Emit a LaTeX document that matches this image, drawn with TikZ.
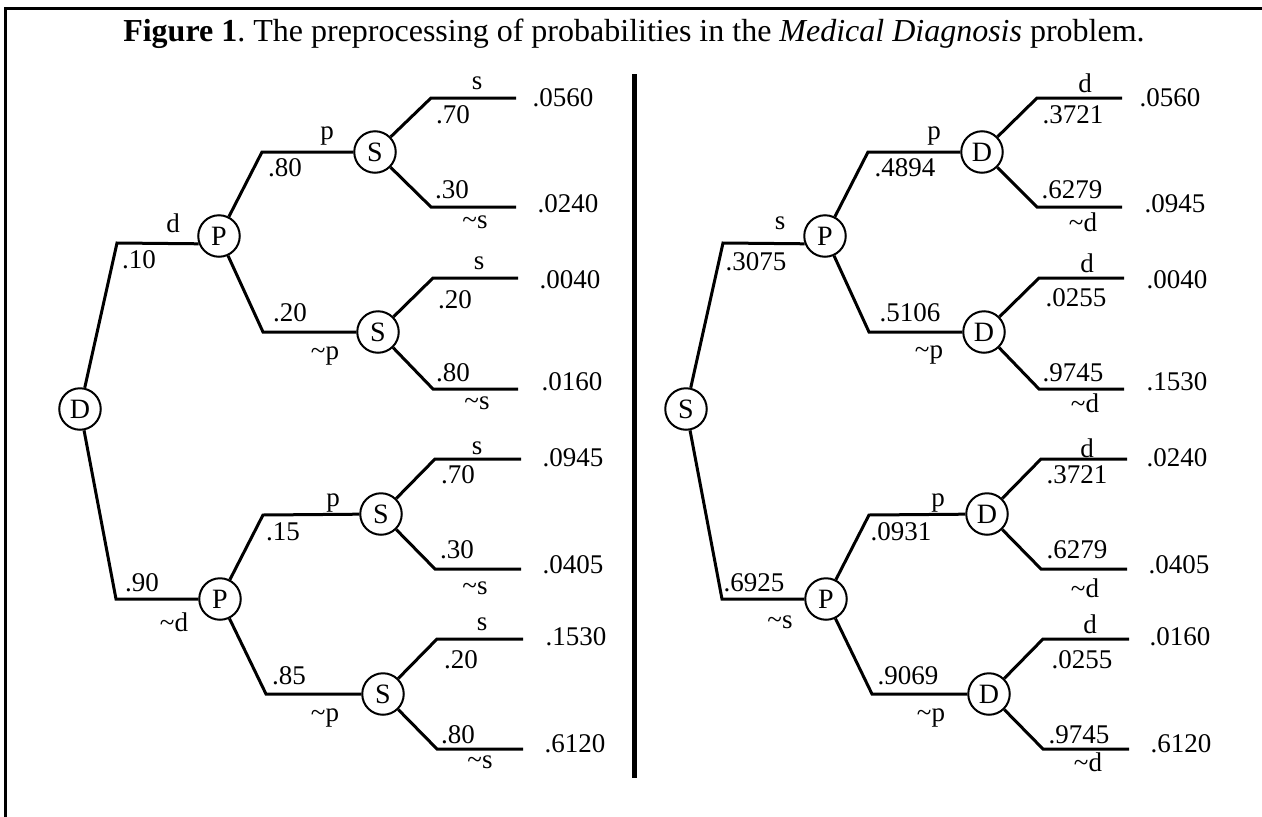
\documentclass[tikz,border=0pt]{standalone}
\usepackage{fontspec}
\setmainfont{Liberation Serif}
\frenchspacing
\begin{document}
\begin{tikzpicture}[x=1pt,y=-1pt,
  lab/.style={inner sep=0pt, font=\fontsize{27}{32}\selectfont},
  chance/.style={draw, circle, line width=2pt, minimum size=41.5pt, inner sep=0pt, font=\fontsize{28}{32}\selectfont},
  branch/.style={line width=3pt, line join=miter},
  frameline/.style={line width=3pt},
  divider/.style={line width=5pt}]
\useasboundingbox (0,0) rectangle (1262,817);
% frame and divider
\coordinate (frTR) at (1262,8);
\coordinate (frTL) at (5,8);
\coordinate (frBL) at (5,817);
\draw[frameline] (frTR) -- (frTL) -- (frBL);
\coordinate (dvT) at (634,74);
\coordinate (dvB) at (634,778);
\draw[divider] (dvT) -- (dvB);
% title
\node[anchor=base, inner sep=0pt, font=\fontsize{32}{38}\selectfont] (title) at (634,41.5)
  {\textbf{Figure 1}. The preprocessing of probabilities in the \textit{Medical Diagnosis} problem.};

% ================= LEFT TREE =================
\node[chance] (L0) at (80,409) {D};
\coordinate (Lc1) at (117,243);
\coordinate (Lc2) at (116,599);
\node[chance] (L1) at (219,236) {P};
\node[chance] (L2) at (220,599) {P};
\coordinate (Lc11) at (262,152);
\coordinate (Lc12) at (263,332);
\coordinate (Lc21) at (263,515);
\coordinate (Lc22) at (266,694);
\node[chance] (L11) at (375,152) {S};
\node[chance] (L12) at (378,332) {S};
\node[chance] (L21) at (381,514) {S};
\node[chance] (L22) at (383,694) {S};
\coordinate (La1) at (431,98);  \coordinate (Le1) at (516,98);
\coordinate (La2) at (431,207); \coordinate (Le2) at (516,207);
\coordinate (La3) at (433,278); \coordinate (Le3) at (518,278);
\coordinate (La4) at (433,389); \coordinate (Le4) at (518,389);
\coordinate (La5) at (435,459); \coordinate (Le5) at (521,459);
\coordinate (La6) at (435,569); \coordinate (Le6) at (521,569);
\coordinate (La7) at (437,639); \coordinate (Le7) at (523,639);
\coordinate (La8) at (437,749); \coordinate (Le8) at (523,749);

\draw[branch] (L0) -- (Lc1) -- (L1.201);
\draw[branch] (L0) -- (Lc2) -- (L2);
\draw[branch] (L1) -- (Lc11) -- (L11);
\draw[branch] (L1) -- (Lc12) -- (L12);
\draw[branch] (L2) -- (Lc21) -- (L21);
\draw[branch] (L2) -- (Lc22) -- (L22);
\draw[branch] (L11) -- (La1) -- (Le1);
\draw[branch] (L11) -- (La2) -- (Le2);
\draw[branch] (L12) -- (La3) -- (Le3);
\draw[branch] (L12) -- (La4) -- (Le4);
\draw[branch] (L21) -- (La5) -- (Le5);
\draw[branch] (L21) -- (La6) -- (Le6);
\draw[branch] (L22) -- (La7) -- (Le7);
\draw[branch] (L22) -- (La8) -- (Le8);

\node[lab] (Lt1) at (173,223) {d};
\node[lab] (Lt2) at (139,260) {.10};
\node[lab] (Lt3) at (142,583) {.90};
\node[lab] (Lt4) at (174,622) {\textasciitilde d};
\node[lab] (Lt5) at (327,136) {p};
\node[lab] (Lt6) at (285,168) {.80};
\node[lab] (Lt7) at (290,313) {.20};
\node[lab] (Lt8) at (325,356) {\textasciitilde p};
\node[lab] (Lt9) at (333,503) {p};
\node[lab] (Lt10) at (283,532) {.15};
\node[lab] (Lt11) at (289,676) {.85};
\node[lab] (Lt12) at (325,718) {\textasciitilde p};
% leaf labels
\node[lab] (Ls1) at (477,83) {s};
\node[lab] (Lq1) at (453,115) {.70};
\node[lab] (Lv1) at (563,98) {.0560};
\node[lab] (Lq2) at (452,190) {.30};
\node[lab] (Ls2) at (475,222) {\textasciitilde s};
\node[lab] (Lv2) at (568,204) {.0240};
\node[lab] (Ls3) at (479,263) {s};
\node[lab] (Lq3) at (455,300) {.20};
\node[lab] (Lv3) at (570,280) {.0040};
\node[lab] (Lq4) at (453,373) {.80};
\node[lab] (Ls4) at (477,403) {\textasciitilde s};
\node[lab] (Lv4) at (572,382) {.0160};
\node[lab] (Ls5) at (477,448) {s};
\node[lab] (Lq5) at (458,475) {.70};
\node[lab] (Lv5) at (573,458) {.0945};
\node[lab] (Lq6) at (457,550) {.30};
\node[lab] (Ls6) at (475,588) {\textasciitilde s};
\node[lab] (Lv6) at (573,565) {.0405};
\node[lab] (Ls7) at (482,624) {s};
\node[lab] (Lq7) at (461,660) {.20};
\node[lab] (Lv7) at (576,637) {.1530};
\node[lab] (Lq8) at (458,735) {.80};
\node[lab] (Ls8) at (480,762) {\textasciitilde s};
\node[lab] (Lv8) at (575,744) {.6120};

% ================= RIGHT TREE =================
\node[chance] (R0) at (686,409) {S};
\coordinate (Rc1) at (723,243);
\coordinate (Rc2) at (722,599);
\node[chance] (R1) at (825,236) {P};
\node[chance] (R2) at (826,599) {P};
\coordinate (Rc11) at (868,152);
\coordinate (Rc12) at (869,332);
\coordinate (Rc21) at (869,515);
\coordinate (Rc22) at (872,694);
\node[chance] (R11) at (982,152) {D};
\node[chance] (R12) at (984,332) {D};
\node[chance] (R21) at (987,514) {D};
\node[chance] (R22) at (989,694) {D};
\coordinate (Ra1) at (1037,98);  \coordinate (Re1) at (1122,98);
\coordinate (Ra2) at (1037,207); \coordinate (Re2) at (1122,207);
\coordinate (Ra3) at (1039,278); \coordinate (Re3) at (1124,278);
\coordinate (Ra4) at (1039,389); \coordinate (Re4) at (1124,389);
\coordinate (Ra5) at (1041,459); \coordinate (Re5) at (1127,459);
\coordinate (Ra6) at (1041,569); \coordinate (Re6) at (1127,569);
\coordinate (Ra7) at (1043,639); \coordinate (Re7) at (1129,639);
\coordinate (Ra8) at (1043,749); \coordinate (Re8) at (1129,749);

\draw[branch] (R0) -- (Rc1) -- (R1.201);
\draw[branch] (R0) -- (Rc2) -- (R2);
\draw[branch] (R1) -- (Rc11) -- (R11);
\draw[branch] (R1) -- (Rc12) -- (R12);
\draw[branch] (R2) -- (Rc21) -- (R21);
\draw[branch] (R2) -- (Rc22) -- (R22);
\draw[branch] (R11) -- (Ra1) -- (Re1);
\draw[branch] (R11) -- (Ra2) -- (Re2);
\draw[branch] (R12) -- (Ra3) -- (Re3);
\draw[branch] (R12) -- (Ra4) -- (Re4);
\draw[branch] (R21) -- (Ra5) -- (Re5);
\draw[branch] (R21) -- (Ra6) -- (Re6);
\draw[branch] (R22) -- (Ra7) -- (Re7);
\draw[branch] (R22) -- (Ra8) -- (Re8);

\node[lab] (Rt1) at (780,223) {s};
\node[lab] (Rt2) at (756,262) {.3075};
\node[lab] (Rt3) at (754,583) {.6925};
\node[lab] (Rt4) at (780,622) {\textasciitilde s};
\node[lab] (Rt5) at (934,136) {p};
\node[lab] (Rt6) at (905,168) {.4894};
\node[lab] (Rt7) at (910,313) {.5106};
\node[lab] (Rt8) at (929,355) {\textasciitilde p};
\node[lab] (Rt9) at (938,503) {p};
\node[lab] (Rt10) at (901,532) {.0931};
\node[lab] (Rt11) at (908,676) {.9069};
\node[lab] (Rt12) at (931,718) {\textasciitilde p};
% leaf labels
\node[lab] (Rs1) at (1085,83) {d};
\node[lab] (Rq1) at (1073,115) {.3721};
\node[lab] (Rv1) at (1170,98) {.0560};
\node[lab] (Rq2) at (1072,190) {.6279};
\node[lab] (Rs2) at (1083,222) {\textasciitilde d};
\node[lab] (Rv2) at (1175,204) {.0945};
\node[lab] (Rs3) at (1087,263) {d};
\node[lab] (Rq3) at (1076,298) {.0255};
\node[lab] (Rv3) at (1177,280) {.0040};
\node[lab] (Rq4) at (1073,373) {.9745};
\node[lab] (Rs4) at (1085,403) {\textasciitilde d};
\node[lab] (Rv4) at (1177,382) {.1530};
\node[lab] (Rs5) at (1087,448) {d};
\node[lab] (Rq5) at (1077,475) {.3721};
\node[lab] (Rv5) at (1177,458) {.0240};
\node[lab] (Rq6) at (1077,550) {.6279};
\node[lab] (Rs6) at (1085,588) {\textasciitilde d};
\node[lab] (Rv6) at (1179,565) {.0405};
\node[lab] (Rs7) at (1090,624) {d};
\node[lab] (Rq7) at (1082,660) {.0255};
\node[lab] (Rv7) at (1180,637) {.0160};
\node[lab] (Rq8) at (1079,735) {.9745};
\node[lab] (Rs8) at (1088,762) {\textasciitilde d};
\node[lab] (Rv8) at (1181,744) {.6120};
\end{tikzpicture}
\end{document}
